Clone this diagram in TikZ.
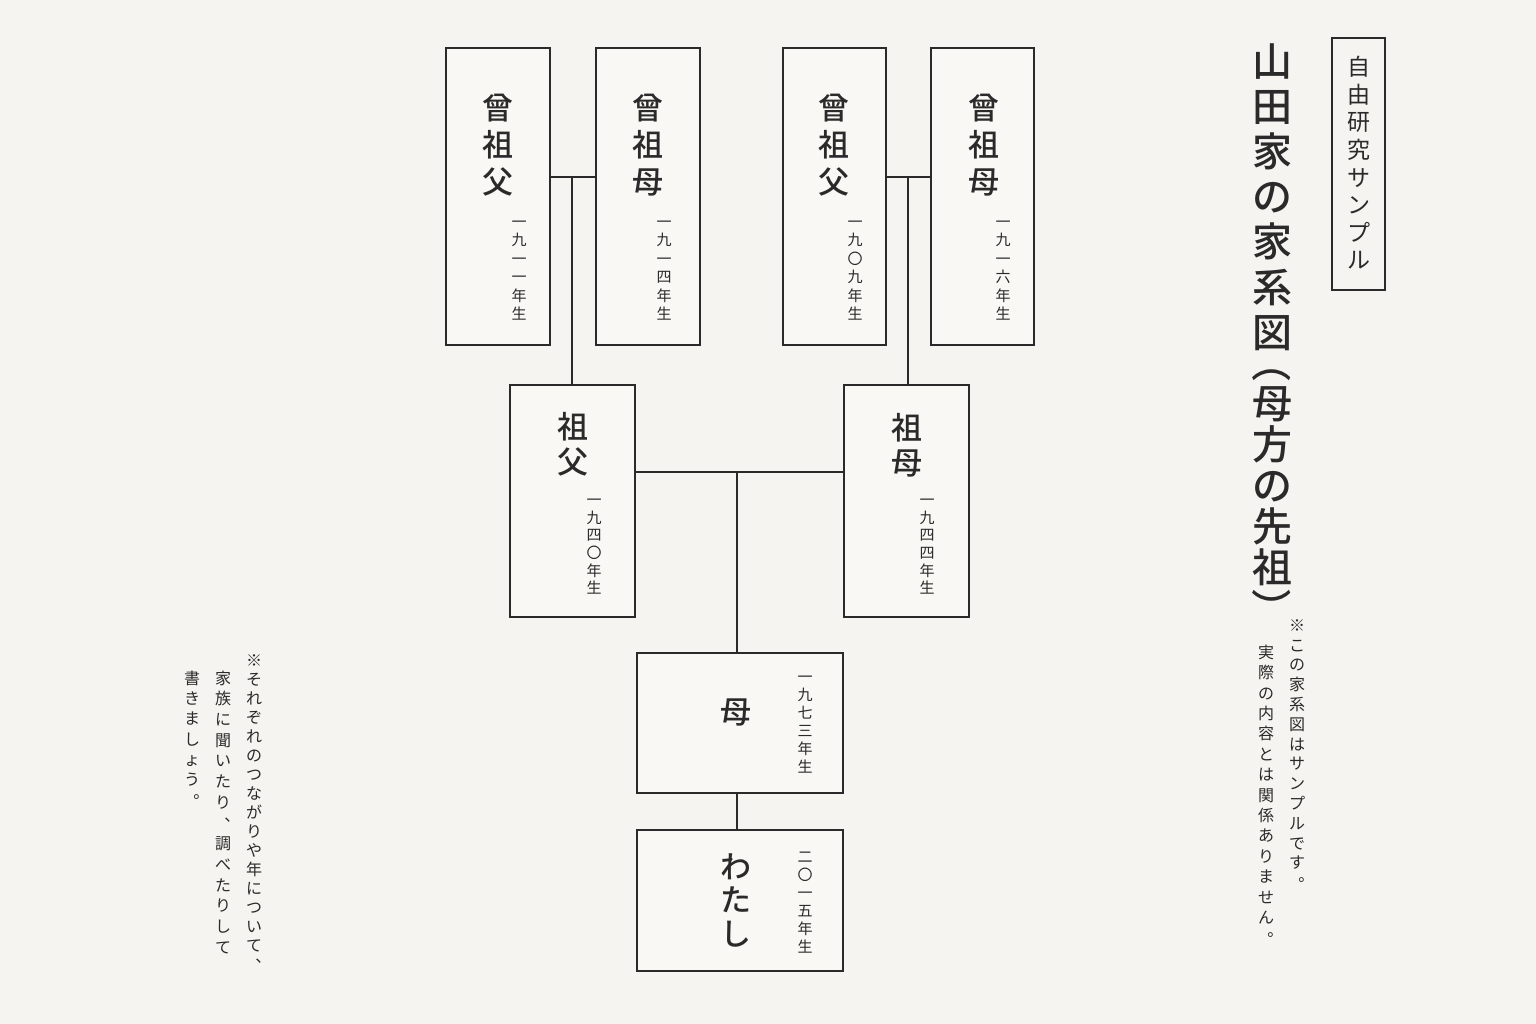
\documentclass[tikz,border=0pt]{standalone}
\usepackage{fontspec}
\newfontfamily\tatefont{Noto Sans CJK JP}
\newfontfamily\tatemed{Noto Sans CJK JP Medium}
\definecolor{paper}{HTML}{F5F4F0}
\definecolor{card}{HTML}{F9F8F5}
\definecolor{ink}{HTML}{2A2A2A}
% one character per cell, top to bottom
\makeatletter
\newcommand\tate[1]{\vbox{\@tfor\tatec:=#1\do{\hbox to 1em{\hss\vrule height .88em depth .12em width 0pt\tatec\hss}}}}
\makeatother
% vertical forms of punctuation
\newcommand\vkten{\hbox to 1em{\hspace{.58em}\rlap{\raisebox{.48em}{、}}\hss}}
\newcommand\vkmaru{\hbox to 1em{\hspace{.58em}\rlap{\raisebox{.48em}{。}}\hss}}
\newcommand\vkopen{\rotatebox[origin=c]{-90}{（}}
\newcommand\vkclose{\rotatebox[origin=c]{-90}{）}}
\tikzset{
  person/.style={draw=ink, fill=card, line width=1.1pt, inner sep=0pt},
  link/.style={draw=ink, line width=1.8pt},
  kinname/.style={inner sep=0pt, text=ink, font=\tatemed\fontsize{31}{37}\selectfont},
  birthyr/.style={inner sep=0pt, text=ink, font=\tatefont\fontsize{15}{18.5}\selectfont},
  memo/.style={inner sep=0pt, text=ink, font=\tatefont\fontsize{16}{20.4}\selectfont}}

\begin{document}
\begin{tikzpicture}[x=1pt,y=-1pt]
\fill[paper] (0,0) rectangle (1536,1024);
\useasboundingbox (0,0) rectangle (1536,1024);
% great-grandparents
\node[person, minimum width=104pt, minimum height=297pt] (hsofuA) at (498,196.5) {};
\node[person, minimum width=104pt, minimum height=297pt] (hsoboA) at (648,196.5) {};
\node[person, minimum width=103pt, minimum height=297pt] (hsofuB) at (834.5,196.5) {};
\node[person, minimum width=103pt, minimum height=297pt] (hsoboB) at (982.5,196.5) {};
\node[kinname] (hsofuA-n) at (498,145) {\tate{曾祖父}};
\node[birthyr] (hsofuA-y) at (519,268) {\tate{一九一一年生}};
\node[kinname] (hsoboA-n) at (648,145) {\tate{曾祖母}};
\node[birthyr] (hsoboA-y) at (664,268) {\tate{一九一四年生}};
\node[kinname] (hsofuB-n) at (834,145) {\tate{曾祖父}};
\node[birthyr] (hsofuB-y) at (855,268) {\tate{一九〇九年生}};
\node[kinname] (hsoboB-n) at (984,145) {\tate{曾祖母}};
\node[birthyr] (hsoboB-y) at (1003,268) {\tate{一九一六年生}};
% grandparents
\node[person, minimum width=125pt, minimum height=232pt] (sofu) at (572.5,501) {};
\node[person, minimum width=125pt, minimum height=232pt] (sobo) at (906.5,501) {};
\node[kinname, font=\tatemed\fontsize{31}{35}\selectfont] (sofu-n) at (573,444.5) {\tate{祖父}};
\node[birthyr, font=\tatefont\fontsize{15}{17.6}\selectfont] (sofu-y) at (594,544) {\tate{一九四〇年生}};
\node[kinname, font=\tatemed\fontsize{31}{35}\selectfont] (sobo-n) at (907,445) {\tate{祖母}};
\node[birthyr, font=\tatefont\fontsize{15}{17.6}\selectfont] (sobo-y) at (927,544) {\tate{一九四四年生}};
% mother and me
\node[person, minimum width=206pt, minimum height=140pt] (haha) at (740,723) {};
\node[person, minimum width=206pt, minimum height=141pt] (watashi) at (740,900.5) {};
\node[kinname] (haha-n) at (736,712) {\tate{母}};
\node[birthyr, font=\tatefont\fontsize{15}{18}\selectfont] (haha-y) at (805,722) {\tate{一九七三年生}};
\node[kinname, font=\tatemed\fontsize{31}{33.5}\selectfont] (watashi-n) at (736,900) {\tate{わたし}};
\node[birthyr, font=\tatefont\fontsize{15}{18}\selectfont] (watashi-y) at (805,902) {\tate{二〇一五年生}};
% connectors
\coordinate (jA) at (572,177);
\coordinate (jB) at (908,177);
\coordinate (jC) at (737,472);
\draw[link] (jA -| hsofuA.east) -- (jA -| hsoboA.west);
\draw[link] (jA) -- (jA |- sofu.north);
\draw[link] (jB -| hsofuB.east) -- (jB -| hsoboB.west);
\draw[link] (jB) -- (jB |- sobo.north);
\draw[link] (jC -| sofu.east) -- (jC -| sobo.west);
\draw[link] (jC) -- (jC |- haha.north);
\draw[link] (jC |- haha.south) -- (jC |- watashi.north);
% title
\node[inner sep=0pt, text=ink, font=\tatemed\fontsize{40}{45.2}\selectfont] (title-a) at (1272,196.5) {\tate{山田家の家系図}};
\node[inner sep=0pt, text=ink, font=\tatemed\fontsize{40}{38.8}\selectfont] (title-b) at (1272,485.5) {\tate{\vkopen 母方の先祖\vkclose}};
\node[person, fill=none, minimum width=53pt, minimum height=252pt] (label) at (1358.5,164) {};
\node[inner sep=0pt, text=ink, font=\tatefont\fontsize{23}{27.6}\selectfont] (label-t) at (1359,163.5) {\tate{自由研究サンプル}};
% notes
\node[memo, font=\tatefont\fontsize{16}{19.8}\selectfont] (noteR-a) at (1297,754) {\tate{※この家系図はサンプルです\vkmaru}};
\node[memo] (noteR-b) at (1266,795) {\tate{実際の内容とは関係ありません\vkmaru}};
\node[memo, font=\tatefont\fontsize{16}{19}\selectfont] (noteL-a) at (254,812) {\tate{※それぞれのつながりや年について\vkten}};
\node[memo, font=\tatefont\fontsize{16}{20.7}\selectfont] (noteL-b) at (223,812.5) {\tate{家族に聞いたり\vkten 調べたりして}};
\node[memo, font=\tatefont\fontsize{16}{20.3}\selectfont] (noteL-c) at (192,739) {\tate{書きましょう\vkmaru}};
\end{tikzpicture}
\end{document}
